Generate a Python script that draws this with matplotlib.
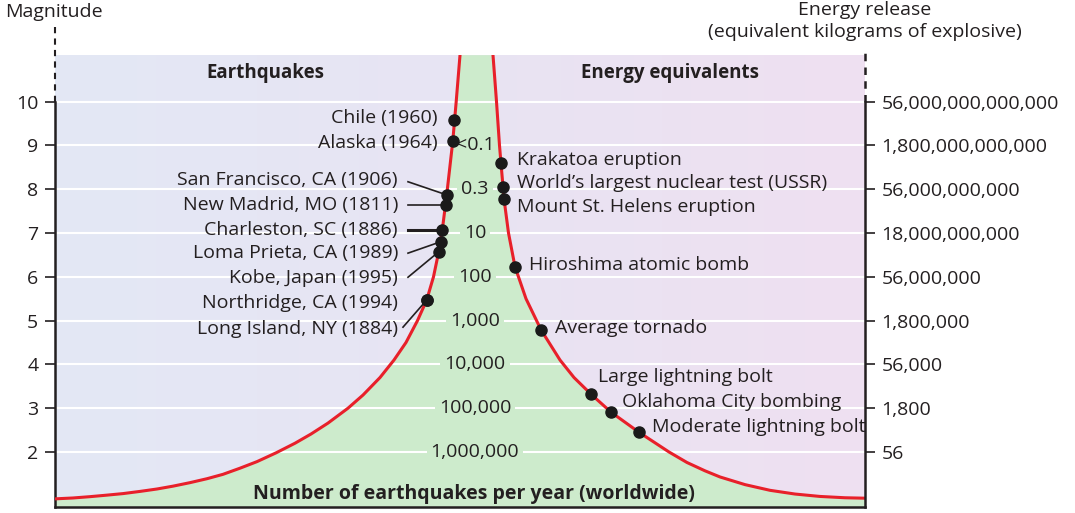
#!/usr/bin/env python
# coding=utf-8
"""
Earthquake magnitude vs. number per year and energy equivalents
"""

import numpy as np
import matplotlib.pyplot as plt
from matplotlib.colors import LinearSegmentedColormap

plt.rcParams['font.family'] = ['Open Sans', 'DejaVu Sans']

#  Magnitude scale and the two label columns
magnitudes = [2, 3, 4, 5, 6, 7, 8, 9, 10]
energy_labels = ['56', '1,800', '56,000', '1,800,000', '56,000,000',
                 '18,000,000,000', '56,000,000,000', '1,800,000,000,000',
                 '56,000,000,000,000']
count_mags = [2, 3, 4, 5, 6, 7, 8, 9]
count_labels = ['1,000,000', '100,000', '10,000', '1,000', '100', '10',
                '0.3', '<0.1']

#  Outline of the frequency curve (horizontal chart units 0-810, magnitude)
left_x = [0, 18, 35, 52, 68, 85, 102, 118, 135, 152, 168, 185, 202, 221,
          240, 256, 273, 293, 308, 325, 339, 351, 362.5, 371.7, 378.5,
          383.7, 387.3, 391.7, 397.7, 401.2, 405]
left_m = [0.93, 0.95, 0.98, 1.015, 1.05, 1.10, 1.155, 1.22, 1.30, 1.39, 1.49,
          1.63, 1.78, 1.98, 2.20, 2.41, 2.66, 3.00, 3.30, 3.70, 4.10, 4.50,
          5.00, 5.47, 6.00, 6.57, 7.07, 7.87, 9.08, 10.0, 11.06]
right_x = [438, 441.5, 444.5, 446, 448, 449, 453.5, 460, 471, 486, 505, 519,
           536, 556, 584, 614, 632, 650, 665, 690, 715, 740, 765, 790, 810]
right_m = [11.06, 10.0, 9.0, 8.59, 8.06, 7.78, 7.0, 6.23, 5.50, 4.79, 4.10,
           3.70, 3.32, 2.91, 2.45, 2.00, 1.76, 1.57, 1.43, 1.255, 1.125,
           1.04, 0.985, 0.955, 0.945]

#  Earthquakes (left side)
quake_names = ['Chile (1960)', 'Alaska (1964)', 'San Francisco, CA (1906)',
               'New Madrid, MO (1811)', 'Charleston, SC (1886)',
               'Loma Prieta, CA (1989)', 'Kobe, Japan (1995)',
               'Northridge, CA (1994)', 'Long Island, NY (1884)']
quake_m = [9.58, 9.11, 7.87, 7.64, 7.07, 6.80, 6.57, 5.47, 5.47]
quake_x = [399.5, 398, 391.7, 390.7, 387.3, 385.7, 383.7, 371.7, 371.7]

#  Energy equivalents (right side)
energy_names = ['Krakatoa eruption', 'World\u2019s largest nuclear test (USSR)',
                'Mount St. Helens eruption', 'Hiroshima atomic bomb',
                'Average tornado', 'Large lightning bolt',
                'Oklahoma City bombing', 'Moderate lightning bolt']
energy_m = [8.59, 8.06, 7.78, 6.23, 4.79, 3.32, 2.91, 2.45]
energy_x = [446, 448, 449, 460, 486, 536, 556, 584]

#  Label placement (text x, text magnitude, leader start or None)
quake_text = [(383, 9.63, None), (383, 9.06, None), (343, 8.21, (353, 8.17)),
              (343, 7.64, (353, 7.64)), (343, 7.07, (353, 7.07)),
              (343, 6.54, (353, 6.54)), (343, 5.97, (353, 5.99)),
              (343, 5.40, None), (343, 4.81, (348, 4.85))]
energy_text = [(462, 8.67), (462, 8.14), (462, 7.60), (474, 6.27),
               (500, 4.83), (543, 3.71), (567, 3.14), (597, 2.57)]

ink = '#231f20'
green = '#cdebcc'
red = '#e8202a'
x_min, x_max = 0, 810
y_min, y_max = 0.744, 11.064

fig = plt.figure(figsize=(10.75, 5.13), dpi=100)
ax = fig.add_axes([55 / 1075, 6 / 513, 810 / 1075, 452 / 513])

#  Background gradient blue -> lavender
cmap = LinearSegmentedColormap.from_list('bg', ['#e3e8f5', '#e8e4f3',
                                                '#efe0f1'])
ax.imshow(np.linspace(0, 1, 256).reshape(1, -1), cmap=cmap, aspect='auto',
          extent=[x_min, x_max, y_min, y_max], zorder=0)

#  Green area below the curve
poly_x = [x_min] + left_x + right_x + [x_max]
poly_m = [y_min] + left_m + right_m + [y_min]
ax.fill(poly_x, poly_m, color=green, lw=0, zorder=1)

ax.hlines(magnitudes, x_min, x_max, color='white', lw=1.5, zorder=2)

for m, lab in zip(count_mags, count_labels):
    ax.text(420, m, lab, ha='center', va='center', fontsize=14, color=ink,
            zorder=3, bbox=dict(facecolor=green, edgecolor='none', pad=3))

ax.plot(left_x, left_m, color=red, lw=2.2, zorder=4,
        solid_joinstyle='round')
ax.plot(right_x, right_m, color=red, lw=2.2, zorder=4,
        solid_joinstyle='round')

for name, m, x, (tx, tm, lead) in zip(quake_names, quake_m, quake_x,
                                      quake_text):
    ax.text(tx, tm, name, ha='right', va='center', fontsize=14, color=ink,
            zorder=5)
    if lead is not None:
        lw = 2.2 if name.startswith('Charleston') else 1.2
        ax.plot([lead[0], x], [lead[1], m], color=ink, lw=lw, zorder=4)
ax.plot(quake_x, quake_m, 'o', color='#1a1a1a', ms=8, zorder=6)

for name, m, x, (tx, tm) in zip(energy_names, energy_m, energy_x,
                                energy_text):
    ax.text(tx, tm, name, ha='left', va='center', fontsize=14, color=ink,
            zorder=5)
ax.plot(energy_x, energy_m, 'o', color='#1a1a1a', ms=8, zorder=6)

ax.text(210, 10.65, 'Earthquakes', ha='center', va='center', fontsize=13.5,
        fontweight='bold', color=ink)
ax.text(615, 10.65, 'Energy equivalents', ha='center', va='center',
        fontsize=13.5, fontweight='bold', color=ink)
ax.text(419, 1.03, 'Number of earthquakes per year (worldwide)', ha='center',
        va='center', fontsize=14, fontweight='bold', color=ink, zorder=5)

ax.set_xlim(x_min, x_max)
ax.set_ylim(y_min, y_max)
ax.set_xticks([])
ax.set_yticks(magnitudes)
ax.set_yticklabels([str(m) for m in magnitudes])
ax.tick_params(axis='y', length=7, width=1.2, color=ink, labelcolor=ink,
               labelsize=14, pad=5)

ax2 = ax.twinx()
ax2.set_ylim(y_min, y_max)
ax2.set_yticks(magnitudes)
ax2.set_yticklabels(energy_labels)
ax2.tick_params(axis='y', length=7, width=1.2, color=ink, labelcolor=ink,
                labelsize=14, pad=5)

for a in (ax, ax2):
    a.spines['top'].set_visible(False)
    for s in a.spines.values():
        s.set_color(ink)
        s.set_linewidth(1.8)
ax.spines['right'].set_visible(False)
ax2.spines['left'].set_visible(False)
ax2.spines['bottom'].set_visible(False)
ax.spines['left'].set_bounds(y_min, 10)
ax2.spines['right'].set_bounds(y_min, 10)

#  Dashed axis extensions above magnitude 10
ax.plot([x_min, x_min], [10, 11.79], color=ink, lw=1.5, ls=(0, (3, 2.5)),
        clip_on=False, zorder=7)
ax.plot([x_max, x_max], [10, 11.25], color=ink, lw=1.8, ls=(0, (3, 2.5)),
        clip_on=False, zorder=7)

fig.text(54 / 1075, 1 - 12 / 513, 'Magnitude', ha='center', va='center',
         fontsize=14, color=ink)
fig.text(865 / 1075, 1 - 10 / 513, 'Energy release', ha='center',
         va='center', fontsize=14, color=ink)
fig.text(865 / 1075, 1 - 32 / 513, '(equivalent kilograms of explosive)',
         ha='center', va='center', fontsize=14, color=ink)

fig.savefig('out.png', dpi=100)
